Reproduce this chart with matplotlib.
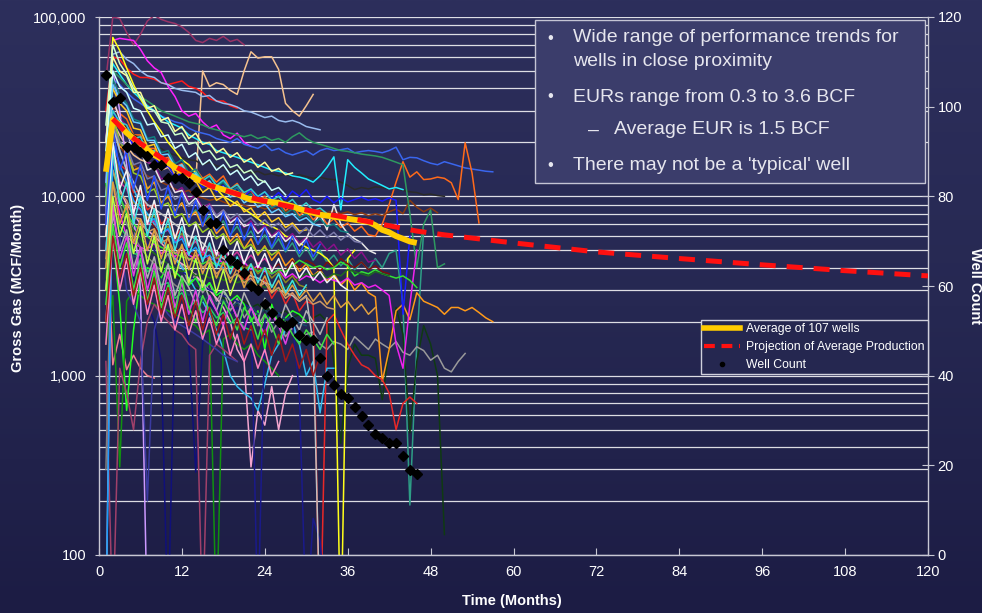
import numpy as np
import matplotlib
matplotlib.use('Agg')
import matplotlib.pyplot as plt
from matplotlib.lines import Line2D
from matplotlib.patches import Rectangle
from matplotlib.colors import LinearSegmentedColormap
from matplotlib.ticker import LogLocator, FixedLocator, FuncFormatter, NullFormatter

plt.rcParams['font.family'] = ['Liberation Sans', 'DejaVu Sans']

# ---------------- data ----------------
x_ticks = [0, 12, 24, 36, 48, 60, 72, 84, 96, 108, 120]
y_ticks = [100, 1000, 10000, 100000]
count_ticks = [0, 20, 40, 60, 80, 100, 120]

count_months = list(range(1, 47))
well_count = [107, 101, 102, 91, 91, 90, 89, 87, 87, 84, 84, 84, 83, 81, 77, 74, 74, 68, 66, 65,
              63, 60, 59, 56, 54, 52, 51, 52, 49, 48, 48, 44, 40, 38, 36, 35, 33, 31, 29, 27,
              26, 25, 25, 22, 19, 18]

avg_months = list(range(1, 47))
avg_values = [13700, 26700, 25000, 22600, 21000, 19500, 18200, 17000, 16200, 15400, 14500, 13800,
              13200, 12600, 12000, 11500, 11200, 10900, 10600, 10300, 9900, 9560, 9500, 9400, 9300,
              9200, 9000, 8800, 8500, 8300, 8100, 7900, 7800, 7700, 7600, 7500, 7400, 7300, 7200,
              6900, 6500, 6300, 6000, 5800, 5600, 5500]

proj_months = [2, 4, 7, 10, 13, 16, 20, 24, 28, 32, 36, 40, 46, 50, 60, 72, 84, 96, 108, 120]
proj_values = [27000, 22500, 18500, 15500, 13300, 11500, 10300, 9400, 8700, 8100, 7600, 7100,
               6400, 6100, 5500, 4900, 4500, 4150, 3850, 3600]

# individual wells: monthly values starting at month 1
w01 = [45000, 100000, 98000, 82000, 70000, 80000, 95000, 102000, 97000, 94000, 92000, 88000, 82000,
       74000, 72000, 76000, 74000, 78000, 73000, 75000, 70000]
w02 = [8000, 26000, 22000, 19000, 17000, 16000, 15500, 15000, 14000, 14500, 13000, 13500, 12500, 12000,
       50000, 41000, 43000, 42000, 39000, 37000, 50000, 64000, 59000, 60000, 60000, 51000, 33000, 30000,
       28000, 32000, 37000]
w03 = [30000, 60000, 58000, 52000, 48000, 46000, 46000, 45000, 43000, 42000, 43000, 44000, 41000, 40000,
       38000, 35000, 34000, 34000, 32000, 31000]
w04 = [20000, 74000, 76000, 75000, 74000, 66000, 57000, 52000, 49000, 41000, 36000, 30000, 28000, 29000,
       26000, 24000, 25000, 22000, 21000, 22500, 20000, 19000]
w05 = [15000, 62000, 64000, 58000, 55000, 50000, 47000, 46000, 43000, 42000, 40000, 39000, 38500, 38000,
       36000, 36500, 34000, 33000, 32500, 31500, 30000, 29500, 28500, 27500, 28000, 26500, 26000, 26500,
       25700, 24500, 24000, 23500]
w06 = [12000, 45000, 42000, 38000, 35000, 33000, 31000, 30000, 28000, 27000, 26000, 25500, 24000, 23000,
       22500, 22000, 21000, 20500, 20000, 21000, 19500, 19000, 18500, 19500, 18000, 18500, 17500, 17000,
       17500, 18000, 17000, 18000, 18500, 18000, 18200, 18500, 17500, 17800, 18000, 17800, 17500, 18000,
       18800, 16000, 16500, 16400, 15800, 15300, 15000, 15600, 15200, 14800, 14400, 14200, 14000, 13800, 13700]
w07 = [10000, 32000, 29000, 27000, 22000, 22000, 18500, 18500, 16000, 16500, 14500, 15200, 13500, 14200,
       12600, 13300, 12000, 13000, 11000, 11800, 10200, 10800, 9400, 10000, 8800, 9500, 8300, 9000, 7800,
       8400, 7400, 8000, 7000, 7500, 6700, 7100, 6400, 6800, 6100, 6000, 7000, 9000, 12000, 15600, 12800,
       13700, 12400, 12500, 12800, 12600, 11900, 9600, 19900, 13500, 7100]
w08 = [9000, 30000, 27000, 24000, 22000, 21000, 20000, 19000, 18500, 17500, 17000, 16500, 16000, 15800,
       15000, 15500, 14800, 14500, 14000, 14200, 13800, 13500, 13800, 13200, 13400, 13000, 13300, 12800,
       13200, 12900, 12600, 12800, 12500, 12400, 12000, 11500, 10900, 11200, 11000, 11300, 11200, 11000,
       11100, 10800, 10600, 10500, 10200, 10300, 10100, 10000]
w09 = [7000, 22000, 19000, 17000, 15000, 14000, 13000, 12500, 12000, 11500, 11000, 10500, 10800, 10000,
       9800, 9500, 9700, 9300, 9000, 9200, 8900, 8700, 8800, 8500, 8700, 8400, 8200, 8500, 8300, 8000,
       8200, 8400, 8100, 8300, 8000, 8200, 7900, 8100, 7800, 8000, 7800, 8200, 8500, 8000, 9500, 8700,
       8200, 8600, 8100]
w10 = [20000, 55000, 48000, 42000, 38000, 35000, 32000, 30000, 28000, 26000, 25000, 24000, 22000, 21000,
       20000, 19500, 18000, 17500, 17000, 16500, 16000, 15500, 15000, 14500, 14000, 13800, 13500, 13000,
       12800, 12500, 12000, 13000, 14500, 16600, 8400, 16000, 14500, 13500, 12500, 12000, 11500, 11000,
       11200, 10900]
w11 = [18000, 50000, 46000, 42000, 39000, 36000, 34000, 32000, 30000, 29000, 28000, 27000, 26000, 25500,
       25000, 24000, 23500, 23000, 22500, 22000, 21500, 22000, 21000, 21500, 20500, 21000, 20000, 21500,
       22600, 21000, 20000, 19500, 19000, 18500, 18000, 17800, 17500, 17200, 17000, 16800, 16500, 16000,
       15500, 15000, 8000, 4000, 7000, 8400, 4000, 4200]
w12 = [9000, 28000, 20000, 19000, 14000, 14500, 11000, 12000, 9200, 10200, 8300, 9200, 7600, 8400, 7000,
       7800, 6500, 7300, 6100, 6800, 5800, 6400, 5400, 6100, 5100, 5800, 4900, 5500, 4600, 5200, 4400,
       5000, 4300, 4700, 4100, 4500, 3900, 4300, 3900, 4500, 4000, 4800, 5000, 2500, 190, 1500, 6500]
w13 = [3000, 9000, 7000, 6000, 5500, 5000, 4600, 4300, 4000, 3800, 3600, 3400, 3300, 3100, 3000, 2900,
       2800, 2700, 2600, 2500, 2600, 2400, 2500, 2300, 2400, 2200, 2300, 2100, 2200, 2000, 2100, 2200,
       2000, 1200, 420, 1100, 1500, 1300, 1300, 1250, 735, 1400, 2400, 1700, 480, 1200, 1900, 1500,
       1000, 130]
w14 = [6000, 15000, 9500, 8500, 6500, 6800, 5000, 5600, 4200, 4800, 3700, 4200, 3200, 3700, 2900, 3300,
       2600, 3000, 2300, 2700, 2100, 2400, 1900, 2200, 1750, 2000, 1650, 1850, 1550, 1700, 1750, 1500,
       1400, 1550, 1500, 1400, 1650, 1520, 1400, 1600, 1500, 1420, 1550, 1350, 1300, 1450, 1380, 1220,
       1300, 1100, 1050, 1200, 1330]
w15 = [8000, 25000, 19000, 18000, 14000, 14500, 11000, 12000, 9200, 10000, 8300, 9200, 7600, 8200, 6800,
       7500, 6200, 6800, 5600, 6200, 5100, 5800, 4700, 5300, 4400, 4900, 4100, 4500, 3800, 4200, 3600,
       3900, 3400, 3700, 3200, 3500, 3000, 3300, 2900, 2750, 930, 1400, 2300, 2500, 2050, 2900, 2600,
       2500, 2400, 2200, 2400, 2400, 2300, 2400, 2250, 2100, 2000]
w16 = [6000, 20000, 15000, 14000, 10500, 10800, 8400, 9000, 7000, 7600, 6000, 6600, 5200, 5800, 4700,
       5200, 4200, 4700, 3700, 4200, 3300, 3800, 2900, 3400, 2700, 3100, 2500, 2900, 2300, 2600, 2500,
       30, 2000, 2200, 1800, 1500, 1300, 1150, 1100, 1000, 950, 800, 500, 700, 760, 700]
w17 = [15000, 77000, 65000, 52000, 42000, 35000, 30000, 26000, 23000, 20000, 18000, 16000, 15000, 13500,
       12500, 11500, 11000, 10000, 9500, 9000, 8500, 8000, 7500, 7000, 6800, 6500, 6000, 5800, 5500,
       5200, 5000, 4800, 4500, 4000, 30, 4500, 5000]
w18 = [9000, 1150, 1700, 1080, 1300, 1100, 1000, 970]
w19 = [5000, 14000, 11000, 9000, 8000, 7000, 6500, 6000, 5500, 5000, 4500, 4200, 4000, 3600, 3300, 3000,
       2700, 2400, 2000, 1400, 1200, 310, 640, 530, 870, 500, 800, 1000]
w20 = [8000, 25000, 18000, 14000, 11000, 9000, 8000, 7000, 6000, 5000, 4500, 4000, 3500, 3000, 2600,
       2200, 1800, 1400, 1000, 870, 800, 750, 640, 900, 1300, 1500, 1800, 2000, 1500, 1000, 1200, 620,
       1100, 1100]
w21 = [3000, 9000, 6000, 4500, 3500, 3000, 2500, 2000, 1200, 40, 2000, 2500, 1500, 290, 1500, 2500, 2300,
       2600, 2200, 2400, 2000, 1800]
w22 = [5000, 15000, 10000, 8000, 7000, 6000, 5500, 5000, 4600, 4200, 4000, 3800, 3600, 3400, 3200, 3000,
       2900, 2800, 2700, 2600, 2500, 2400, 40, 2000, 2300, 2200, 2100, 2000, 800, 40, 160, 120, 40]
w23 = [12000, 6000, 2500, 640, 1800, 3500, 4000, 3800, 3500, 4200, 3800, 3500, 3200, 3500, 3000, 3300,
       2800, 3000, 2600, 2800, 2500, 2000, 2300, 1400, 2500, 1900, 2100, 2300, 2200, 2000]
w24 = [1500, 2800, 310, 2600, 3000, 2800, 2600, 2500, 2400, 2300, 2200, 2100, 2000, 1900, 1700, 1800, 40,
       1600, 1700, 1500, 1400, 1500, 1300, 1200, 1100, 1000]
w25 = [1200, 40, 1100, 800, 500, 1200, 2000, 2500, 2200, 2000, 1800, 1700, 1500, 1400, 40, 1300, 1500,
       1400, 1300, 1200]
w26 = [20000, 50000, 30000, 15000, 8000, 3000, 40]
w27 = [40, 25000, 18000, 14000, 12000, 10000, 9000, 8500, 8000, 7500, 7000, 6500, 6000, 5800, 5500, 5000,
       4800, 4500, 4300, 4000, 3800, 3600, 3500, 3300, 3200, 3000, 2900, 2800, 2600, 2800, 1500, 40]
w28 = [12000, 35000, 27000, 25000, 19000, 19500, 15500, 15000, 12500, 12800, 10500, 11200, 9500, 10200,
       8600, 9100, 7800, 8400, 7200, 7700, 6700, 7300, 6300, 6900, 6000, 6500, 5700, 6200, 5500, 5900,
       5200, 5600, 5000, 5400, 4700, 5100, 4500, 4900, 4300, 4400]
w29 = [6000, 12000, 8000, 6000, 5500, 5200, 5000, 5500, 4800, 5000, 4600, 5200, 4700, 4500, 5000, 4400,
       4600, 4200, 4500, 4000, 4300, 3900, 4100, 3800, 3700, 3900, 3500, 3700, 3400, 3600, 3500, 3300,
       3500, 3400, 3300, 3500, 3200, 3300, 3100, 3200, 3000, 2800, 1500, 1100, 2500, 5000]
w30 = [15000, 40000, 33000, 30000, 24000, 23500, 19000, 19500, 15500, 16000, 13200, 14000, 12000, 12200,
       10500, 11200, 9500, 10000, 8800, 9400, 8200, 8600, 7600, 8200, 7200, 7600, 6700, 7100, 6400, 6500]
w31 = [10000, 35000, 27000, 23000, 18000, 18500, 14000, 14500, 12000, 12500, 10500, 10800, 9000, 9800,
       8400, 8900, 7600, 8200, 7100, 7600, 6800, 7000, 6200, 6700, 5900, 6300, 5600, 6000, 5300, 5800,
       7000, 8000, 6500, 9000, 7000, 6200, 5800, 5500, 5000, 4800]
w32 = [8000, 30000, 25000, 23000, 19000, 19500, 16000, 16800, 14200, 14800, 12800, 13500, 12000, 12600,
       11200, 11800, 10600, 11500, 10300, 11200, 10000, 10900, 9800, 10600, 9700, 10500, 9600, 10700,
       10000, 10900, 9600, 9200, 10000, 9200, 9800, 9300, 9600, 9900, 9500, 9700, 9400, 9800, 9500,
       2200, 6000]
w33 = [5000, 20000, 15000, 12000, 10000, 8500, 7500, 6800, 6000, 5500, 5200, 4800, 5000, 4600, 4400,
       4700, 4200, 4000, 4300, 3900, 4100, 3800, 4000, 3700, 3900, 4200, 3800, 4400, 4000, 4400, 4200,
       3800, 4300, 4000, 4500, 4200, 4000, 4300, 3900, 4100, 3800, 3700]
w34 = [4000, 14000, 10000, 8000, 7000, 6500, 6000, 5500, 5200, 5000, 4800, 4600, 4500, 4300, 4200, 4400,
       4100, 4300, 4000, 4200, 3900, 4100, 3800, 4000, 3700, 3900, 3800, 4100, 4400, 4200, 4000, 4100,
       3900, 4000, 4300, 4100, 3600, 3800, 3700, 3900, 3700, 3600, 3500, 3600, 3400, 3100]
w35 = [3500, 12000, 9000, 7500, 6500, 5800, 5200, 4800, 4500, 4200, 4000, 3800, 3900, 3600, 3700, 3500,
       3600, 3400, 3500, 3300, 3400, 3200, 3300, 3100, 3200, 3000, 3100, 3300, 3500, 3700, 3600, 3800,
       3500, 3700, 3600, 3900, 3800, 3700, 3600, 3800, 3700, 3600]
w36 = [15000, 45000, 37000, 33000, 27000, 26000, 21000, 21500, 17500, 18000, 15200, 16000, 13500, 14200,
       12300, 13000, 11400, 12000, 10600, 11200, 9800, 10300, 9200, 9800, 8600, 9100, 8000, 8500, 7600,
       8000, 7100, 7500, 6800, 7000, 6400, 6300]
w37 = [10000, 30000, 26000, 25000, 21000, 21500, 17500, 18000, 15200, 16000, 14000, 14800, 13000, 13600,
       12200, 13000, 11500, 12300, 11000, 11600, 10500, 11000, 10000, 10600, 9500, 10000, 9000, 9600,
       8600, 9200, 8300, 8600, 8000]
w38 = [9000, 28000, 20000, 18000, 13500, 13000, 10500, 11000, 8800, 9200, 7600, 8000, 6800, 7200, 6300,
       6700, 5800, 6200, 5400, 5800, 5100, 5400, 4800, 5200, 4700, 5000]
w39 = [20000, 60000, 50000, 47000, 38000, 38000, 31000, 32000, 26500, 27500, 23000, 24500, 21000, 22500,
       19500, 20000, 17500, 18500, 16500, 17500, 15500, 16300, 14500, 15500, 13800, 14300, 13200, 13500]
w40 = [4000, 10000, 6000, 3000, 2500, 2000, 200, 1800, 2500, 2200, 2000, 1900, 1800, 1700, 1600, 1500,
       1400, 1300, 1250, 1200]
w41 = [8000, 25000, 20000, 19000, 15000, 15500, 12500, 13000, 10800, 11200, 9600, 10200, 8800, 9400,
       8300, 8900, 7800, 8400, 7500, 8000, 7200, 7600, 6900, 7400, 6700, 7100, 6400, 6900, 6200, 6700,
       6000, 6500, 5900, 6300, 5700, 6100, 5600, 5500]
w42 = [18000, 50000, 41000, 38000, 31000, 30000, 25000, 25500, 21500, 22000, 18500, 19500, 16500, 17500,
       15000, 16000, 14000, 15000, 13200, 14000, 12300, 13000, 11500, 12200, 10800, 11200, 10200]
w43 = [6000, 18000, 13500, 11500, 9200, 9000, 7600, 7800, 6500, 6800, 5800, 6200, 5300, 5600, 4900, 5200,
       4500, 4800, 4200, 4500, 3900, 4200, 3700, 4000, 3500, 3800, 3300, 3600, 3200, 3100]
w44 = [5000, 16000, 12000, 11000, 8600, 8500, 7000, 7300, 6200, 6500, 5600, 6000, 5200, 5600, 4900, 5300,
       4700, 5100, 4500, 4900, 4300, 4700, 4200, 4500, 4000]
w45 = [12000, 42000, 35000, 32000, 26000, 25500, 20500, 20500, 17000, 17200, 14600, 15000, 12800, 13300,
       11700, 12200, 10800, 11300, 9900, 10400, 9200, 9700, 8700, 9100, 8100, 8500, 7700, 8000, 7300,
       7600, 7000, 6800]
w46 = [4500, 14000, 10500, 9500, 7600, 7500, 6300, 6600, 5500, 5800, 4800, 5200, 4400, 4700, 4000, 4300,
       3700, 4000, 3500, 3700, 3300, 3500, 3100, 3300, 2900, 3100, 2700, 2900, 2600, 2750, 2500, 2600,
       2400, 2350]
w47 = [2500, 8000, 6200, 5800, 4600, 4600, 3800, 4000, 3400, 3600, 3000, 3200, 2800, 3000, 2600, 2800,
       2500, 2650, 2400, 2550, 2300, 2450, 2200, 2350, 2100, 2250, 2050, 2150, 1950, 1900]
w48 = [3000, 9000, 6800, 6000, 4800, 4700, 3800, 4000, 3200, 3300, 2700, 2900, 2400, 2600, 2250, 2400,
       2100, 2250, 1950, 2100, 1850, 1800]
w49 = [300, 12000, 9000, 7000, 6000, 5200, 4600, 4200, 3800, 3500, 3200, 3000]
w50 = [40, 20000, 15000, 12000, 9500, 8500, 7200, 7500, 6200, 6600, 5500, 5800, 4800, 5200, 4500, 4700,
       4200, 4000]
w51 = [25000, 70000, 55000, 48000, 40000, 36000, 31000, 30000, 26000, 25500, 22000, 22500, 19500, 20000,
       17500, 18000, 16000, 16500, 14500, 15000, 13500, 14000, 12500, 12000]
w52 = [2000, 8000, 5000, 6500, 4000, 5200, 3500, 4600, 3000, 4200, 2800, 3600, 3100, 2500, 3400, 2700,
       2300, 3000, 2600, 2100, 2900, 2400, 2000, 2700, 2300, 1900, 2500, 2100, 1800, 2300, 2000, 1700, 2100]
w53 = [3000, 9000, 4500, 6000, 3600, 5200, 3000, 4200, 2600, 3800, 2400, 3300, 2200, 3000, 2000, 2800,
       2300, 1900, 2600, 2100, 1800, 2400, 2000, 1700, 2200, 1900, 1500, 2000]
w54 = [2500, 7000, 4000, 5500, 3000, 4500, 2600, 3800, 2400, 3200, 2200, 3500, 2400, 2000, 2800, 2300,
       1900, 2600, 2200, 1800, 2400, 2100, 1600, 2200, 1900, 1500, 2000, 1700, 1500, 1800, 1600, 1400,
       1700, 1500]
w55 = [1500, 6000, 3000, 4500, 2500, 3800, 2200, 3200, 2000, 2800, 1800, 2500, 1700, 2300, 1600, 2100,
       1500, 1900, 1300, 1700, 1200, 1500, 1100, 1400, 1000, 1200]
w56 = [5000, 18000, 9000, 12000, 7000, 10000, 6000, 8500, 5500, 7500, 5000, 6800, 4700, 6000, 4300, 5500,
       4000, 5000, 3700, 4600, 3500, 4200, 3300, 4000, 3100, 3700, 2900, 3400, 2800, 3200]
w57 = [6000, 20000, 11000, 14000, 8000, 11500, 7000, 9500, 6300, 8500, 5800, 7600, 5300, 7000, 5000, 6400,
       4700, 6000, 4400, 5600, 4200, 5200, 4000, 4800, 3800, 4500, 3600, 4300, 3500, 4000, 3400, 3800,
       3300, 3600, 3200, 3000]
w58 = [2000, 6000, 3500, 4800, 2800, 4000, 2500, 3500, 2200, 3100, 2100, 2800, 1900, 2600, 1800, 2400,
       1700, 2200, 1600, 2100, 1500, 1900, 1400, 1800, 1300, 1700, 1200, 1500, 1100, 1400, 1000, 1300]
w59 = [4000, 12000, 7000, 9000, 5500, 7500, 5000, 6500, 4500, 6000, 4200, 5400, 3900, 5000, 3700, 4600,
       3500, 4300, 3300, 4000, 3100, 3800, 3000, 3600, 2900, 3400, 2800, 3200, 2700, 3000, 2600, 2900,
       2500, 2800, 2400, 2600, 2300, 2500, 2200, 2400]
w60 = [7000, 24000, 14000, 18000, 11000, 15000, 9500, 13000, 8500, 11500, 7800, 10500, 7200, 9500, 6800,
       8800, 6400, 8200, 6000, 7600, 5700, 7100, 5400, 6700, 5200, 6300, 5000, 6000, 4800, 5700, 4600, 5400]
w61 = [3000, 10000, 6000, 8000, 4800, 6800, 4200, 6000, 3800, 5400, 3500, 4900, 3300, 4500, 3100, 4200,
       2900, 3900, 2800, 3600]

well_colors = ['#993366', '#F5C28F', '#FF1A1A', '#FF22FF', '#99BBEE', '#3A66EE', '#FF6A1A', '#2A2A2A',
               '#8B3A10', '#22EEFF', '#2E9960', '#2E9E86', '#0F3A12', '#9A9A9A', '#FF9A1A', '#E82828',
               '#FFFF1A', '#F08090', '#F4A6D0', '#33BBEE', '#10107A', '#1A1A8A', '#22FF22', '#109010',
               '#A0406A', '#CC99FF', '#C0C0C0', '#8A108A', '#EE22EE', '#FFCC22', '#E6E6E6', '#1A1AFF',
               '#7A1010', '#33E033', '#1E6A1E', '#108080', '#33CCCC', '#99CC22', '#FFFF99', '#3A3AA0',
               '#7A7AAA', '#CCFFFF', '#8A8A20', '#CC3399', '#66CCFF', '#CC9966', '#1A4A6A', '#22CC66',
               '#808080', '#1A99FF', '#CCFFCC', '#B0B0B0', '#E040E0', '#40E040', '#FF80C0', '#40E0E0',
               '#F4F4F4', '#A01818', '#E0A040', '#2850FF', '#C0FF40']

wells = [w01, w02, w03, w04, w05, w06, w07, w08, w09, w10, w11, w12, w13, w14, w15, w16, w17, w18,
         w19, w20, w21, w22, w23, w24, w25, w26, w27, w28, w29, w30, w31, w32, w33, w34, w35, w36,
         w37, w38, w39, w40, w41, w42, w43, w44, w45, w46, w47, w48, w49, w50, w51, w52, w53, w54,
         w55, w56, w57, w58, w59, w60, w61]

legend_labels = ['Average of 107 wells', 'Projection of Average Production', 'Well Count']
bullet_lines = ['Wide range of performance trends for', 'wells in close proximity',
                'EURs range from 0.3 to 3.6 BCF', 'Average EUR is 1.5 BCF',
                "There may not be a 'typical' well"]

# ---------------- figure ----------------
W_PX, H_PX = 982, 613
fig = plt.figure(figsize=(W_PX / 100, H_PX / 100), dpi=100)

bg = fig.add_axes([0, 0, 1, 1], zorder=-10)
grad = np.linspace(0, 1, 256).reshape(-1, 1)
cmap = LinearSegmentedColormap.from_list('bg', ['#2d2f5c', '#262852', '#1c1c44'])
bg.imshow(grad, aspect='auto', cmap=cmap, extent=[0, 1, 0, 1])
bg.set_axis_off()

def fx(px):
    return px / W_PX

def fy(py):
    return 1 - py / H_PX

ax_l, ax_r, ax_t, ax_b = 99, 928, 17, 555
ax = fig.add_axes([fx(ax_l), fy(ax_b), fx(ax_r) - fx(ax_l), fy(ax_t) - fy(ax_b)])
ax.set_facecolor('none')
ax.set_yscale('log')
ax.set_xlim(0, 120)
ax.set_ylim(100, 100000)

ax.yaxis.set_major_locator(FixedLocator(y_ticks))
ax.yaxis.set_minor_locator(LogLocator(base=10, subs=np.arange(2, 10)))
ax.yaxis.set_major_formatter(FuncFormatter(lambda v, p: f"{int(round(v)):,}"))
ax.yaxis.set_minor_formatter(NullFormatter())
ax.set_xticks(x_ticks)
ax.yaxis.grid(True, which='both', color='white', lw=0.9, alpha=0.85, zorder=0)
ax.set_axisbelow(True)

spine_col = '#c8c8d4'
for s in ['left', 'bottom', 'right']:
    ax.spines[s].set_color(spine_col)
    ax.spines[s].set_linewidth(1)
ax.spines['top'].set_visible(False)
ax.tick_params(axis='x', direction='in', length=5, color=spine_col, colors='white', labelsize=10.5, pad=7)
ax.tick_params(axis='y', which='major', direction='out', length=3, color=spine_col, colors='white',
               labelsize=10.5, pad=6)
ax.tick_params(axis='y', which='minor', length=0)

for vals, col in zip(wells, well_colors):
    months = np.arange(1, len(vals) + 1)
    ax.plot(months, vals, color=col, lw=1.1, solid_joinstyle='round', zorder=2)

ax.plot(avg_months, avg_values, color='#FFCC00', lw=4.2, solid_capstyle='butt', zorder=3)
ax.plot(proj_months, proj_values, color='#FF1010', lw=3.6, dashes=(3.2, 2.2), zorder=4)

ax2 = ax.twinx()
ax2.set_ylim(0, 120)
ax2.set_yticks(count_ticks)
ax2.tick_params(axis='y', direction='inout', length=8, color=spine_col, colors='white',
                labelsize=10.5, pad=3)
for s in ['left', 'bottom', 'right', 'top']:
    ax2.spines[s].set_visible(False)
ax2.plot(count_months, well_count, ls='none', marker='D', ms=5, color='black', zorder=5)

handles = [Line2D([], [], color='#FFCC00', lw=4),
           Line2D([], [], color='#FF1010', lw=3, dashes=(2.6, 1.6)),
           Line2D([], [], color='black', marker='o', ls='none', ms=3)]
leg = ax2.legend(handles, legend_labels, loc='upper right', bbox_to_anchor=(1.0, 0.4368),
                 frameon=True, fancybox=False, framealpha=1, facecolor='#252750',
                 edgecolor='#d0d0dc', fontsize=8.8, labelcolor='white', borderpad=0.25,
                 labelspacing=0.5, handlelength=3.0, handletextpad=0.5, borderaxespad=0)
leg.get_frame().set_linewidth(1)
leg.set_zorder(10)

fig.text(fx(512), fy(601), 'Time (Months)', ha='center', va='center', color='white',
         fontsize=10.5, fontweight='bold')
fig.text(fx(18), fy(288), 'Gross Gas (MCF/Month)', ha='center', va='center', rotation=90,
         color='white', fontsize=10.5, fontweight='bold')
fig.text(fx(975), fy(286), 'Well Count', ha='center', va='center', rotation=270,
         color='white', fontsize=10.5, fontweight='bold')

box = Rectangle((fx(535), fy(183)), fx(925) - fx(535), fy(20) - fy(183), transform=fig.transFigure,
                facecolor='#3b3d6b', edgecolor='#c4c4d4', lw=1, zorder=20)
fig.add_artist(box)
txt_col = '#e6e6ee'
rows_y = [38, 61, 97, 130, 165]
for i, (line, yy) in enumerate(zip(bullet_lines, rows_y)):
    if i == 3:
        fig.text(fx(588), fy(yy), '–', ha='left', va='center', color=txt_col, fontsize=14, zorder=21)
        fig.text(fx(614), fy(yy), line, ha='left', va='center', color=txt_col, fontsize=14, zorder=21)
    else:
        if i != 1:
            fig.text(fx(547), fy(yy), '•', ha='left', va='center', color=txt_col, fontsize=12, zorder=21)
        fig.text(fx(573), fy(yy), line, ha='left', va='center', color=txt_col, fontsize=14, zorder=21)

fig.savefig('out.png', dpi=100, facecolor=fig.get_facecolor())
